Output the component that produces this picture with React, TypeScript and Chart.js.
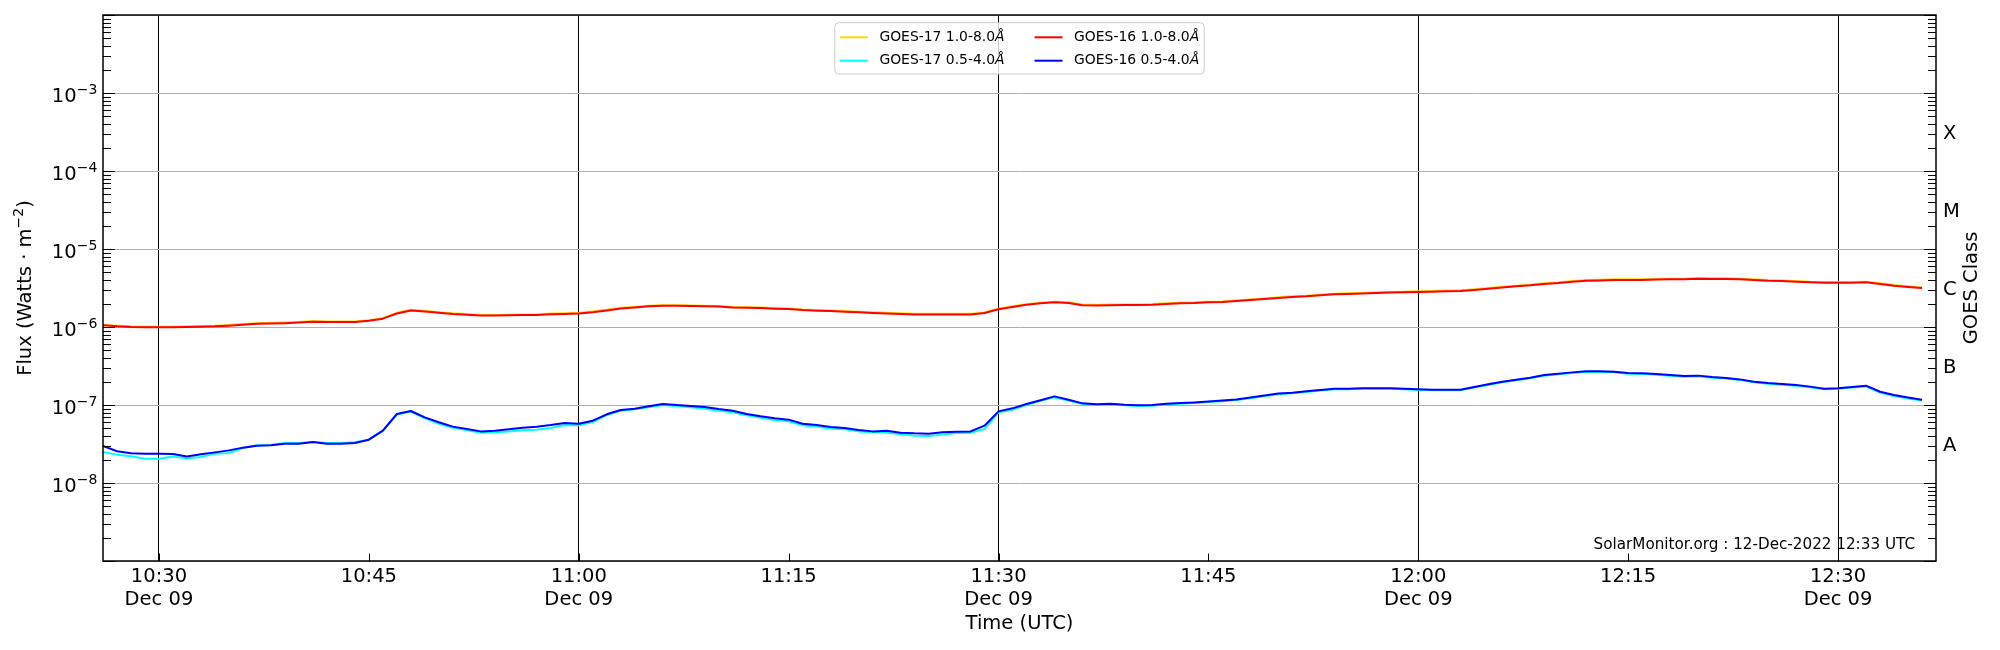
import { useEffect, useRef } from 'react';
import { Chart, registerables } from 'chart.js';

Chart.register(...registerables);

const FONT = '"DejaVu Sans", "Liberation Sans", sans-serif';

// time axis (minutes of the day), 1-minute samples
const firstSample = '10:26';
const cadenceMin = 1;
const axisStart = '10:26';
const axisEnd = '12:37';
const dateLabel = 'Dec 09';
const tickTimes = ['10:30', '10:45', '11:00', '11:15', '11:30', '11:45', '12:00', '12:15', '12:30'];

// flux values, 1.0-8.0 Å in units of 1e-6 W/m2
const goes16Long = [
  1.05, 1.02, 1.0, 0.99, 0.99, 0.99, 1.0, 1.01, 1.02, 1.04,
  1.07, 1.1, 1.11, 1.12, 1.14, 1.17, 1.16, 1.16, 1.16, 1.2,
  1.28, 1.49, 1.63, 1.58, 1.52, 1.47, 1.44, 1.4, 1.4, 1.41,
  1.42, 1.43, 1.46, 1.47, 1.49, 1.55, 1.63, 1.73, 1.78, 1.84,
  1.87, 1.87, 1.86, 1.84, 1.83, 1.78, 1.76, 1.75, 1.72, 1.7,
  1.65, 1.62, 1.6, 1.57, 1.54, 1.51, 1.49, 1.47, 1.45, 1.45,
  1.45, 1.45, 1.45, 1.51, 1.69, 1.81, 1.93, 2.01, 2.07, 2.03,
  1.9, 1.88, 1.9, 1.91, 1.91, 1.93, 1.97, 2.01, 2.03, 2.07,
  2.09, 2.15, 2.22, 2.28, 2.35, 2.42, 2.47, 2.55, 2.62, 2.65,
  2.68, 2.73, 2.76, 2.78, 2.81, 2.84, 2.87, 2.89, 2.98, 3.1,
  3.22, 3.32, 3.42, 3.56, 3.66, 3.81, 3.92, 3.96, 4.0, 4.0,
  4.0, 4.05, 4.09, 4.09, 4.17, 4.13, 4.13, 4.09, 4.0, 3.92,
  3.88, 3.81, 3.74, 3.7, 3.7, 3.7, 3.74, 3.56, 3.39, 3.26,
  3.16,
];
const goes17Long = [
  1.07, 1.04, 1.02, 1.01, 1.01, 1.01, 1.02, 1.03, 1.04, 1.06,
  1.09, 1.12, 1.13, 1.14, 1.16, 1.19, 1.18, 1.18, 1.18, 1.22,
  1.3, 1.52, 1.66, 1.61, 1.55, 1.5, 1.47, 1.43, 1.43, 1.44,
  1.45, 1.46, 1.49, 1.5, 1.52, 1.58, 1.66, 1.76, 1.81, 1.87,
  1.9, 1.9, 1.89, 1.87, 1.86, 1.81, 1.79, 1.78, 1.75, 1.73,
  1.68, 1.65, 1.63, 1.6, 1.57, 1.54, 1.52, 1.5, 1.48, 1.48,
  1.48, 1.48, 1.48, 1.54, 1.72, 1.84, 1.96, 2.05, 2.11, 2.07,
  1.94, 1.92, 1.94, 1.95, 1.95, 1.97, 2.01, 2.05, 2.07, 2.11,
  2.13, 2.19, 2.26, 2.32, 2.4, 2.47, 2.52, 2.6, 2.67, 2.7,
  2.73, 2.78, 2.81, 2.84, 2.87, 2.9, 2.93, 2.95, 3.04, 3.16,
  3.28, 3.39, 3.49, 3.63, 3.73, 3.89, 4.0, 4.04, 4.08, 4.08,
  4.08, 4.13, 4.17, 4.17, 4.25, 4.21, 4.21, 4.17, 4.08, 4.0,
  3.96, 3.89, 3.81, 3.77, 3.77, 3.77, 3.81, 3.63, 3.46, 3.33,
  3.22,
];

// 0.5-4.0 Å in units of 1e-8 W/m2
const goes16Short = [
  2.98, 2.55, 2.4, 2.38, 2.38, 2.35, 2.18, 2.33, 2.47, 2.62,
  2.84, 3.01, 3.04, 3.19, 3.19, 3.35, 3.19, 3.19, 3.26, 3.59,
  4.69, 7.67, 8.38, 6.95, 6.0, 5.28, 4.92, 4.59, 4.69, 4.88,
  5.12, 5.28, 5.54, 5.88, 5.76, 6.3, 7.6, 8.63, 8.97, 9.61,
  10.3, 10.0, 9.7, 9.43, 8.89, 8.46, 7.67, 7.16, 6.75, 6.49,
  5.76, 5.54, 5.23, 5.07, 4.78, 4.59, 4.69, 4.42, 4.33, 4.29,
  4.46, 4.55, 4.59, 5.43, 8.29, 9.06, 10.3, 11.5, 12.9, 11.7,
  10.5, 10.2, 10.4, 10.1, 9.9, 10.0, 10.4, 10.6, 10.8, 11.1,
  11.4, 11.8, 12.5, 13.2, 14.0, 14.4, 15.0, 15.6, 16.2, 16.2,
  16.4, 16.4, 16.4, 16.2, 15.9, 15.7, 15.7, 15.7, 17.0, 18.4,
  19.9, 21.1, 22.4, 24.2, 25.2, 26.2, 27.0, 27.0, 26.7, 25.7,
  25.5, 25.0, 24.2, 23.5, 23.8, 22.8, 22.2, 21.3, 19.9, 19.1,
  18.6, 18.0, 17.2, 16.2, 16.4, 17.0, 17.7, 14.8, 13.4, 12.5,
  11.7,
];
const goes17Short = [
  2.5, 2.31, 2.2, 2.05, 2.05, 2.18, 2.07, 2.16, 2.38, 2.42,
  2.81, 3.04, 3.07, 3.26, 3.26, 3.35, 3.26, 3.26, 3.32, 3.59,
  4.65, 7.53, 8.22, 6.75, 5.76, 5.12, 4.78, 4.42, 4.46, 4.59,
  4.73, 4.83, 5.07, 5.54, 5.49, 6.05, 7.44, 8.46, 8.8, 9.33,
  10.0, 9.71, 9.33, 8.97, 8.46, 8.05, 7.37, 6.88, 6.42, 6.18,
  5.49, 5.28, 4.97, 4.88, 4.59, 4.46, 4.42, 4.25, 4.04, 4.0,
  4.17, 4.38, 4.42, 4.92, 8.05, 8.71, 10.0, 11.3, 12.6, 11.4,
  10.3, 10.0, 10.2, 9.9, 9.7, 9.8, 10.2, 10.4, 10.6, 10.9,
  11.2, 11.6, 12.2, 12.9, 13.7, 14.1, 14.7, 15.3, 15.9, 15.9,
  16.1, 16.1, 16.1, 15.9, 15.6, 15.4, 15.4, 15.4, 16.7, 18.0,
  19.5, 20.7, 22.0, 23.7, 24.7, 25.7, 26.5, 26.5, 26.2, 25.2,
  25.0, 24.5, 23.7, 23.0, 23.3, 22.3, 21.8, 20.9, 19.5, 18.7,
  18.2, 17.6, 16.9, 15.9, 16.1, 16.7, 17.3, 14.4, 13.0, 12.1,
  11.4,
];

// y axis
const yMinExp = -9;
const yMaxExp = -2;
const yLabelExps = [-8, -7, -6, -5, -4, -3];
const classLetters = ['A', 'B', 'C', 'M', 'X'];
const classLevels = [3e-8, 3e-7, 3e-6, 3e-5, 3e-4];
const watermark = 'SolarMonitor.org : 12-Dec-2022 12:33 UTC';

// legend goes column by column: dataset indices
const legendOrder = [2, 3, 0, 1];

const toMin = (hhmm: string) => {
  const [h, m] = hhmm.split(':').map(Number);
  return h * 60 + m;
};
const fmt = (min: number) => `${Math.floor(min / 60)}:${String(min % 60).padStart(2, '0')}`;
const isDecade = (v: number) => {
  const l = Math.log10(v);
  return Math.abs(l - Math.round(l)) < 1e-6;
};
const series = (vals: number[], unit: number) =>
  vals.map((v, i) => ({ x: toMin(firstSample) + i * cadenceMin, y: v * unit }));

const decor = {
  id: 'decor',
  afterDraw(chart: any) {
    const { ctx, chartArea: a } = chart;
    const xs = chart.scales.x;
    const ys = chart.scales.y;
    const seg = (x1: number, y1: number, x2: number, y2: number) => {
      ctx.beginPath();
      ctx.moveTo(x1, y1);
      ctx.lineTo(x2, y2);
      ctx.stroke();
    };
    ctx.save();
    ctx.strokeStyle = '#000';
    ctx.fillStyle = '#000';
    ctx.lineWidth = 1;

    // inward ticks
    ys.ticks.forEach((t: any) => {
      const py = Math.round(ys.getPixelForValue(t.value)) + 0.5;
      const len = isDecade(t.value) ? 12 : 8;
      seg(a.left, py, a.left + len, py);
      seg(a.right, py, a.right - len, py);
    });
    xs.ticks.forEach((t: any) => {
      const px = Math.round(xs.getPixelForValue(t.value)) + 0.5;
      seg(px, a.bottom, px, a.bottom - 7.5);
    });

    ctx.lineWidth = 1.5;
    ctx.strokeRect(a.left, a.top, a.right - a.left, a.bottom - a.top);

    // x tick labels
    ctx.font = `19.5px ${FONT}`;
    ctx.textAlign = 'center';
    ctx.textBaseline = 'alphabetic';
    xs.ticks.forEach((t: any) => {
      const px = xs.getPixelForValue(t.value);
      ctx.fillText(fmt(t.value), px, a.bottom + 20.7);
      if (t.value % 30 === 0) ctx.fillText(dateLabel, px, a.bottom + 44);
    });

    // y tick labels 10^n
    ctx.textAlign = 'right';
    yLabelExps.forEach((e) => {
      const py = ys.getPixelForValue(Math.pow(10, e));
      const sup = '\u2212' + String(-e);
      ctx.font = `14px ${FONT}`;
      const w = ctx.measureText(sup).width;
      ctx.fillText(sup, a.left - 5.7, py + 0.5);
      ctx.font = `19.5px ${FONT}`;
      ctx.fillText('10', a.left - 5.7 - w, py + 9.3);
    });

    // GOES class letters
    ctx.textAlign = 'left';
    ctx.textBaseline = 'middle';
    ctx.font = `19.5px ${FONT}`;
    classLetters.forEach((c, i) => {
      ctx.fillText(c, a.right + 7, ys.getPixelForValue(classLevels[i]));
    });

    // axis titles
    const cy = (a.top + a.bottom) / 2;
    ctx.textAlign = 'center';
    ctx.fillText('Time (UTC)', (a.left + a.right) / 2, a.bottom + 63);

    ctx.save();
    ctx.translate(a.right + 36, cy);
    ctx.rotate(-Math.PI / 2);
    ctx.fillText('GOES Class', 0, 0);
    ctx.restore();

    ctx.save();
    ctx.translate(26, cy);
    ctx.rotate(-Math.PI / 2);
    const p1 = 'Flux (Watts \u00b7 m';
    const p2 = '\u22122';
    const p3 = ')';
    ctx.font = `19.5px ${FONT}`;
    const w1 = ctx.measureText(p1).width;
    const w3 = ctx.measureText(p3).width;
    ctx.font = `14px ${FONT}`;
    const w2 = ctx.measureText(p2).width;
    let px = -(w1 + w2 + w3) / 2;
    ctx.textAlign = 'left';
    ctx.font = `19.5px ${FONT}`;
    ctx.fillText(p1, px, 0);
    px += w1;
    ctx.font = `14px ${FONT}`;
    ctx.fillText(p2, px, -7);
    px += w2;
    ctx.font = `19.5px ${FONT}`;
    ctx.fillText(p3, px, 0);
    ctx.restore();

    // watermark
    ctx.font = `15.2px ${FONT}`;
    ctx.textAlign = 'right';
    ctx.textBaseline = 'alphabetic';
    ctx.fillText(watermark, a.right - 21, a.bottom - 11.7);

    // legend
    const ds = chart.data.datasets;
    const fs = 13.9;
    ctx.font = `${fs}px ${FONT}`;
    const labelW = (lbl: string) => {
      ctx.font = `${fs}px ${FONT}`;
      const w = ctx.measureText(lbl.slice(0, -1)).width;
      ctx.font = `italic ${fs}px ${FONT}`;
      return w + ctx.measureText(lbl.slice(-1)).width;
    };
    const handle = 28;
    const gap = 11.6;
    const colGap = 30;
    const pad = 5;
    const cols = [legendOrder.slice(0, 2), legendOrder.slice(2, 4)];
    const colW = cols.map((c) => handle + gap + Math.max(...c.map((i) => labelW(ds[i].label))));
    const boxW = pad * 2 + colW[0] + colW[1] + colGap;
    const boxH = 51.3;
    const bx = (a.left + a.right) / 2 - boxW / 2;
    const by = a.top + 7.7;
    ctx.beginPath();
    ctx.roundRect(bx, by, boxW, boxH, 4);
    ctx.fillStyle = 'rgba(255,255,255,0.8)';
    ctx.fill();
    ctx.strokeStyle = '#cccccc';
    ctx.lineWidth = 1;
    ctx.stroke();
    let cx = bx + pad;
    cols.forEach((c, ci) => {
      c.forEach((di, ri) => {
        const ry = by + 14.6 + ri * 23.4;
        ctx.strokeStyle = ds[di].borderColor;
        ctx.lineWidth = 2;
        seg(cx, ry, cx + handle, ry);
        const lbl: string = ds[di].label;
        ctx.fillStyle = '#000';
        ctx.textAlign = 'left';
        ctx.textBaseline = 'middle';
        ctx.font = `${fs}px ${FONT}`;
        const main = lbl.slice(0, -1);
        ctx.fillText(main, cx + handle + gap, ry);
        const mw = ctx.measureText(main).width;
        ctx.font = `italic ${fs}px ${FONT}`;
        ctx.fillText(lbl.slice(-1), cx + handle + gap + mw, ry);
      });
      cx += colW[ci] + colGap;
    });

    ctx.restore();
  },
};

const App = () => {
  const canvasRef = useRef<HTMLCanvasElement>(null);
  const chartRef = useRef<Chart | null>(null);

  useEffect(() => {
    document.body.style.margin = '0';
    if (!canvasRef.current) return;
    if (chartRef.current) chartRef.current.destroy();

    const line = (label: string, vals: number[], unit: number, color: string) => ({
      label,
      data: series(vals, unit),
      borderColor: color,
      backgroundColor: color,
      borderWidth: 2,
      pointRadius: 0,
      tension: 0,
      fill: false,
      borderJoinStyle: 'round' as const,
    });

    chartRef.current = new Chart(canvasRef.current, {
      type: 'line',
      data: {
        datasets: [
          line('GOES-16 1.0-8.0\u00c5', goes16Long, 1e-6, '#ff0000'),
          line('GOES-16 0.5-4.0\u00c5', goes16Short, 1e-8, '#0000ff'),
          line('GOES-17 1.0-8.0\u00c5', goes17Long, 1e-6, '#ffd700'),
          line('GOES-17 0.5-4.0\u00c5', goes17Short, 1e-8, '#00ffff'),
        ],
      },
      options: {
        animation: false,
        responsive: true,
        maintainAspectRatio: false,
        events: [],
        layout: { padding: { left: 103, right: 64, top: 15, bottom: 89 } },
        plugins: { legend: { display: false }, tooltip: { enabled: false } },
        scales: {
          x: {
            type: 'linear',
            min: toMin(axisStart),
            max: toMin(axisEnd),
            afterFit: (s: any) => {
              s.height = 0;
            },
            afterBuildTicks: (s: any) => {
              s.ticks = tickTimes.map((t) => ({ value: toMin(t) }));
            },
            ticks: { display: false },
            border: { display: false },
            grid: {
              drawTicks: false,
              lineWidth: 1,
              color: (c: any) => (c.tick && c.tick.value % 30 === 0 ? '#000000' : 'rgba(0,0,0,0)'),
            },
          },
          y: {
            type: 'logarithmic',
            min: Math.pow(10, yMinExp),
            max: Math.pow(10, yMaxExp),
            afterFit: (s: any) => {
              s.width = 0;
            },
            afterBuildTicks: (s: any) => {
              const t: { value: number }[] = [];
              for (let e = yMinExp; e < yMaxExp; e++) {
                for (let m = 1; m < 10; m++) t.push({ value: m * Math.pow(10, e) });
              }
              t.push({ value: Math.pow(10, yMaxExp) });
              s.ticks = t;
            },
            ticks: { display: false },
            border: { display: false },
            grid: {
              drawTicks: false,
              lineWidth: 1,
              color: (c: any) => (c.tick && isDecade(c.tick.value) ? '#b0b0b0' : 'rgba(0,0,0,0)'),
            },
          },
        },
      },
      plugins: [decor],
    });

    return () => {
      if (chartRef.current) chartRef.current.destroy();
      chartRef.current = null;
    };
  }, []);

  return (
    <div style={{ position: 'relative', width: 2000, height: 650, background: '#fff' }}>
      <canvas ref={canvasRef} />
    </div>
  );
};

export default App;
